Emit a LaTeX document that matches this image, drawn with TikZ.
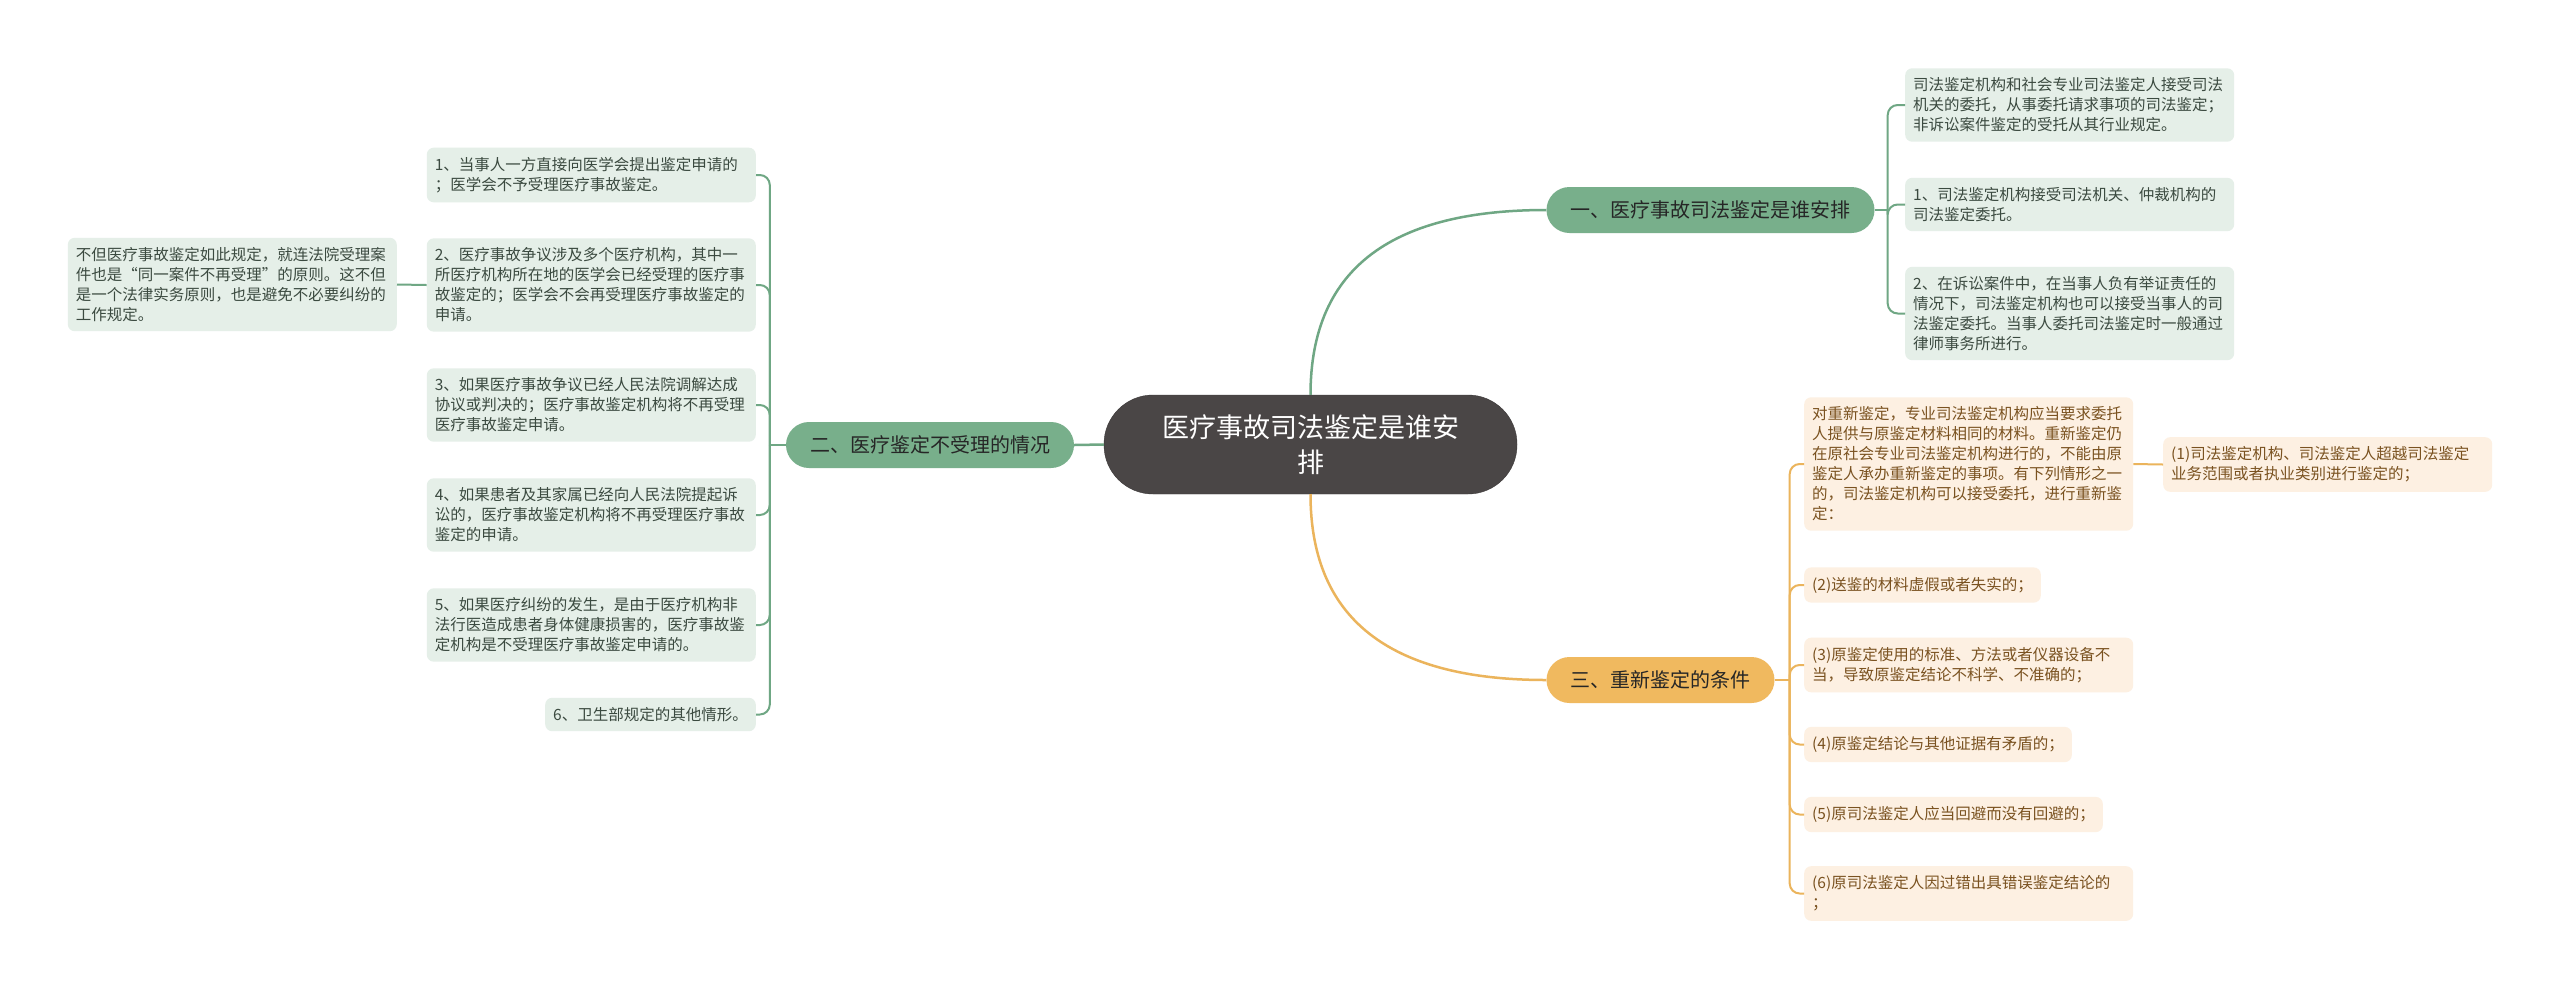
\documentclass[tikz,border=0pt]{standalone}
\usepackage{fontspec}
\setmainfont{Noto Sans CJK SC}
\definecolor{rootgray}{HTML}{4A4646}
\definecolor{mintdark}{HTML}{78AF8B}
\definecolor{mintline}{HTML}{6FA784}
\definecolor{mintpale}{HTML}{E5EFE8}
\definecolor{minttext}{HTML}{3B4A40}
\definecolor{sanddark}{HTML}{F0B95F}
\definecolor{sandline}{HTML}{EBB45C}
\definecolor{sandpale}{HTML}{FDF0E2}
\definecolor{sandtext}{HTML}{7A5220}

\begin{document}
\begin{tikzpicture}[x=1pt, y=-1pt,
  rootbox/.style={rectangle, rounded corners=49pt, fill=rootgray, draw=rootgray!80!black, minimum width=413pt, minimum height=99pt, align=center, text=white, font=\fontsize{27}{35}\selectfont},
  topic/.style={rectangle, rounded corners=23pt, minimum height=46pt, inner xsep=24pt, text=black!85, font=\fontsize{20}{24}\selectfont},
  minttopic/.style={topic, fill=mintdark},
  sandtopic/.style={topic, fill=sanddark},
  leaf/.style={rectangle, rounded corners=7pt, inner xsep=8pt, inner ysep=9.5pt, align=left, font=\fontsize{15.5}{20}\selectfont},
  mintleaf/.style={leaf, fill=mintpale, text=minttext},
  sandleaf/.style={leaf, fill=sandpale, text=sandtext},
  fullw/.style={text width=313pt},
  mintthick/.style={draw=mintline, line width=2.5pt},
  sandthick/.style={draw=sandline, line width=2.5pt},
  mintedge/.style={draw=mintline, line width=2pt, rounded corners=10pt},
  sandedge/.style={draw=sandline, line width=2pt, rounded corners=10pt}
]
\useasboundingbox (0,0) rectangle (2560,989);
\fill[white] (0,0) rectangle (2560,989);

% centre and main topics
\node[rootbox] (root) at (1310.5,444.5) {医疗事故司法鉴定是谁安\\排};
\node[minttopic] (who) at (1710.5,210) {一、医疗事故司法鉴定是谁安排};
\node[minttopic] (reject) at (930,445) {二、医疗鉴定不受理的情况};
\node[sandtopic] (redo) at (1660.5,680) {三、重新鉴定的条件};

\draw[mintthick] (root.north) .. controls +(0,-130) and +(-150,0) .. (who.west);
\draw[mintthick] (root.west) -- (reject.east);
\draw[sandthick] (root.south) .. controls +(0,130) and +(-150,0) .. (redo.west);

% branch one
\node[mintleaf, fullw, anchor=west] (who1) at (1905,105) {司法鉴定机构和社会专业司法鉴定人接受司法\\机关的委托，从事委托请求事项的司法鉴定；\\非诉讼案件鉴定的受托从其行业规定。};
\node[mintleaf, fullw, anchor=west] (who2) at (1905,204.5) {1、司法鉴定机构接受司法机关、仲裁机构的\\司法鉴定委托。};
\node[mintleaf, fullw, anchor=west] (who3) at (1905,313.5) {2、在诉讼案件中，在当事人负有举证责任的\\情况下，司法鉴定机构也可以接受当事人的司\\法鉴定委托。当事人委托司法鉴定时一般通过\\律师事务所进行。};

\coordinate (whofork) at ([xshift=13pt]who.east);
\draw[mintthick, line width=2pt] (who.east) -- (whofork);
\foreach \leaf in {who1,who2,who3}
  \draw[mintedge] (whofork) |- (\leaf.west);

% branch two
\node[mintleaf, fullw, anchor=east] (rej1) at (756,175) {1、当事人一方直接向医学会提出鉴定申请的\\；医学会不予受理医疗事故鉴定。};
\node[mintleaf, fullw, anchor=east] (rej2) at (756,285) {2、医疗事故争议涉及多个医疗机构，其中一\\所医疗机构所在地的医学会已经受理的医疗事\\故鉴定的；医学会不会再受理医疗事故鉴定的\\申请。};
\node[mintleaf, fullw, anchor=east] (rej3) at (756,405) {3、如果医疗事故争议已经人民法院调解达成\\协议或判决的；医疗事故鉴定机构将不再受理\\医疗事故鉴定申请。};
\node[mintleaf, fullw, anchor=east] (rej4) at (756,515) {4、如果患者及其家属已经向人民法院提起诉\\讼的，医疗事故鉴定机构将不再受理医疗事故\\鉴定的申请。};
\node[mintleaf, fullw, anchor=east] (rej5) at (756,625) {5、如果医疗纠纷的发生，是由于医疗机构非\\法行医造成患者身体健康损害的，医疗事故鉴\\定机构是不受理医疗事故鉴定申请的。};
\node[mintleaf, anchor=east] (rej6) at (756,714.5) {6、卫生部规定的其他情形。};
\node[mintleaf, fullw, anchor=east] (rejnote) at (397,284.5) {不但医疗事故鉴定如此规定，就连法院受理案\\件也是“同一案件不再受理”的原则。这不但\\是一个法律实务原则，也是避免不必要纠纷的\\工作规定。};

\coordinate (rejfork) at ([xshift=-16pt]reject.west);
\draw[mintthick, line width=2pt] (reject.west) -- (rejfork);
\foreach \leaf in {rej1,rej2,rej3,rej4,rej5,rej6}
  \draw[mintedge] (rejfork) |- (\leaf.east);
\draw[mintedge] (rej2.west) -- (rejnote.east);

% branch three
\node[sandleaf, fullw, anchor=west] (redo0) at (1804,464) {对重新鉴定，专业司法鉴定机构应当要求委托\\人提供与原鉴定材料相同的材料。重新鉴定仍\\在原社会专业司法鉴定机构进行的，不能由原\\鉴定人承办重新鉴定的事项。有下列情形之一\\的，司法鉴定机构可以接受委托，进行重新鉴\\定：};
\node[sandleaf, fullw, anchor=west] (redo1) at (2163,464.5) {(1)司法鉴定机构、司法鉴定人超越司法鉴定\\业务范围或者执业类别进行鉴定的；};
\node[sandleaf, anchor=west] (redo2) at (1804,585) {(2)送鉴的材料虚假或者失实的；};
\node[sandleaf, fullw, anchor=west] (redo3) at (1804,665) {(3)原鉴定使用的标准、方法或者仪器设备不\\当，导致原鉴定结论不科学、不准确的；};
\node[sandleaf, anchor=west] (redo4) at (1804,744.5) {(4)原鉴定结论与其他证据有矛盾的；};
\node[sandleaf, anchor=west] (redo5) at (1804,814.5) {(5)原司法鉴定人应当回避而没有回避的；};
\node[sandleaf, fullw, anchor=west] (redo6) at (1804,893.5) {(6)原司法鉴定人因过错出具错误鉴定结论的\\；};

\coordinate (redofork) at ([xshift=15pt]redo.east);
\draw[sandthick, line width=2pt] (redo.east) -- (redofork);
\foreach \leaf in {redo0,redo2,redo3,redo4,redo5,redo6}
  \draw[sandedge] (redofork) |- (\leaf.west);
\draw[sandedge] (redo0.east) -- (redo1.west);
\end{tikzpicture}
\end{document}
